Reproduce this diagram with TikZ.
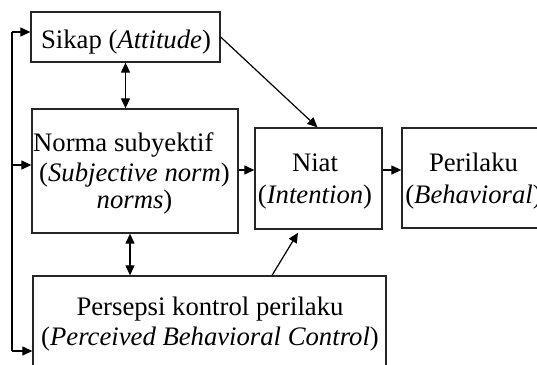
\documentclass[tikz,border=0pt]{standalone}
\usepackage{fontspec}
\setmainfont{Liberation Serif}
\usetikzlibrary{arrows.meta}
\tikzset{
  box/.style={draw=black!85, line width=1.3pt, inner sep=0pt, minimum width=#1},
  txt/.style={inner sep=0pt, font=\fontsize{26.7}{30}\selectfont},
  arr/.style={line width=1.2pt, -{Triangle[length=10pt,width=9pt]}},
  dbl/.style={line width=1.2pt, {Triangle[length=10pt,width=9pt]}-{Triangle[length=10pt,width=9pt]}},
  ln/.style={line width=1.2pt}
}
\begin{document}
\begin{tikzpicture}[x=1pt,y=-1pt]
\useasboundingbox (0,0) rectangle (537,364);
% boxes
\node[box=189pt, minimum height=50pt] (sikap) at (125.5,37) {};
\node[box=206pt, minimum height=124pt] (norma) at (135,171) {};
\node[box=127pt, minimum height=101pt] (niat) at (318.5,178.5) {};
\node[box=143pt, minimum height=100pt] (perilaku) at (473.5,178) {};
\node[box=353pt, minimum height=94pt] (persepsi) at (209.5,323) {};
% texts
\node[txt, anchor=base] (tSikap) at (126,48) {Sikap (\textit{Attitude})};
\node[txt, anchor=base west] (tNorma1) at (33,151) {Norma subyektif};
\node[txt, anchor=base west] (tNorma2) at (39,181) {(\textit{Subjective norm})};
\node[txt, anchor=base] (tNorma3) at (134.5,208) {\textit{norms})};
\node[txt, anchor=base] (tNiat1) at (315,171) {Niat};
\node[txt, anchor=base] (tNiat2) at (315,203) {(\textit{Intention})};
\node[txt, anchor=base] (tPer1) at (473.5,171) {Perilaku};
\node[txt, anchor=base] (tPer2) at (473.5,203) {(\textit{Behavioral})};
\node[txt, anchor=base] (tPbc1) at (210,315) {Persepsi kontrol perilaku};
\node[txt, anchor=base] (tPbc2) at (210,345) {(\textit{Perceived Behavioral Control})};
% feedback bracket
\coordinate (fbTop) at (12,32);
\coordinate (fbMid) at (12,165);
\coordinate (fbBot) at (12,351);
\draw[ln] (fbTop) -- (fbBot);
\draw[arr] (fbTop) -- (fbTop -| sikap.west);
\draw[arr] (fbMid) -- (fbMid -| norma.west);
\draw[arr] (fbBot) -- (fbBot -| persepsi.west);
% connectors
\coordinate (row) at (0,170);
\draw[arr] (sikap.east) -- ([xshift=-1pt]niat.north);
\draw[arr] (row -| norma.east) -- (row -| niat.west);
\draw[arr] (row -| niat.east) -- (row -| perilaku.west);
\draw[arr] ([xshift=-46.5pt]niat.south |- persepsi.north) -- ([xshift=-20.5pt,yshift=-3pt]niat.south);
\draw[dbl] (sikap.south) -- (sikap.south |- norma.north);
\draw[dbl] ([xshift=-5pt]norma.south) -- ([xshift=-5pt]norma.south |- persepsi.north);
\end{tikzpicture}
\end{document}
